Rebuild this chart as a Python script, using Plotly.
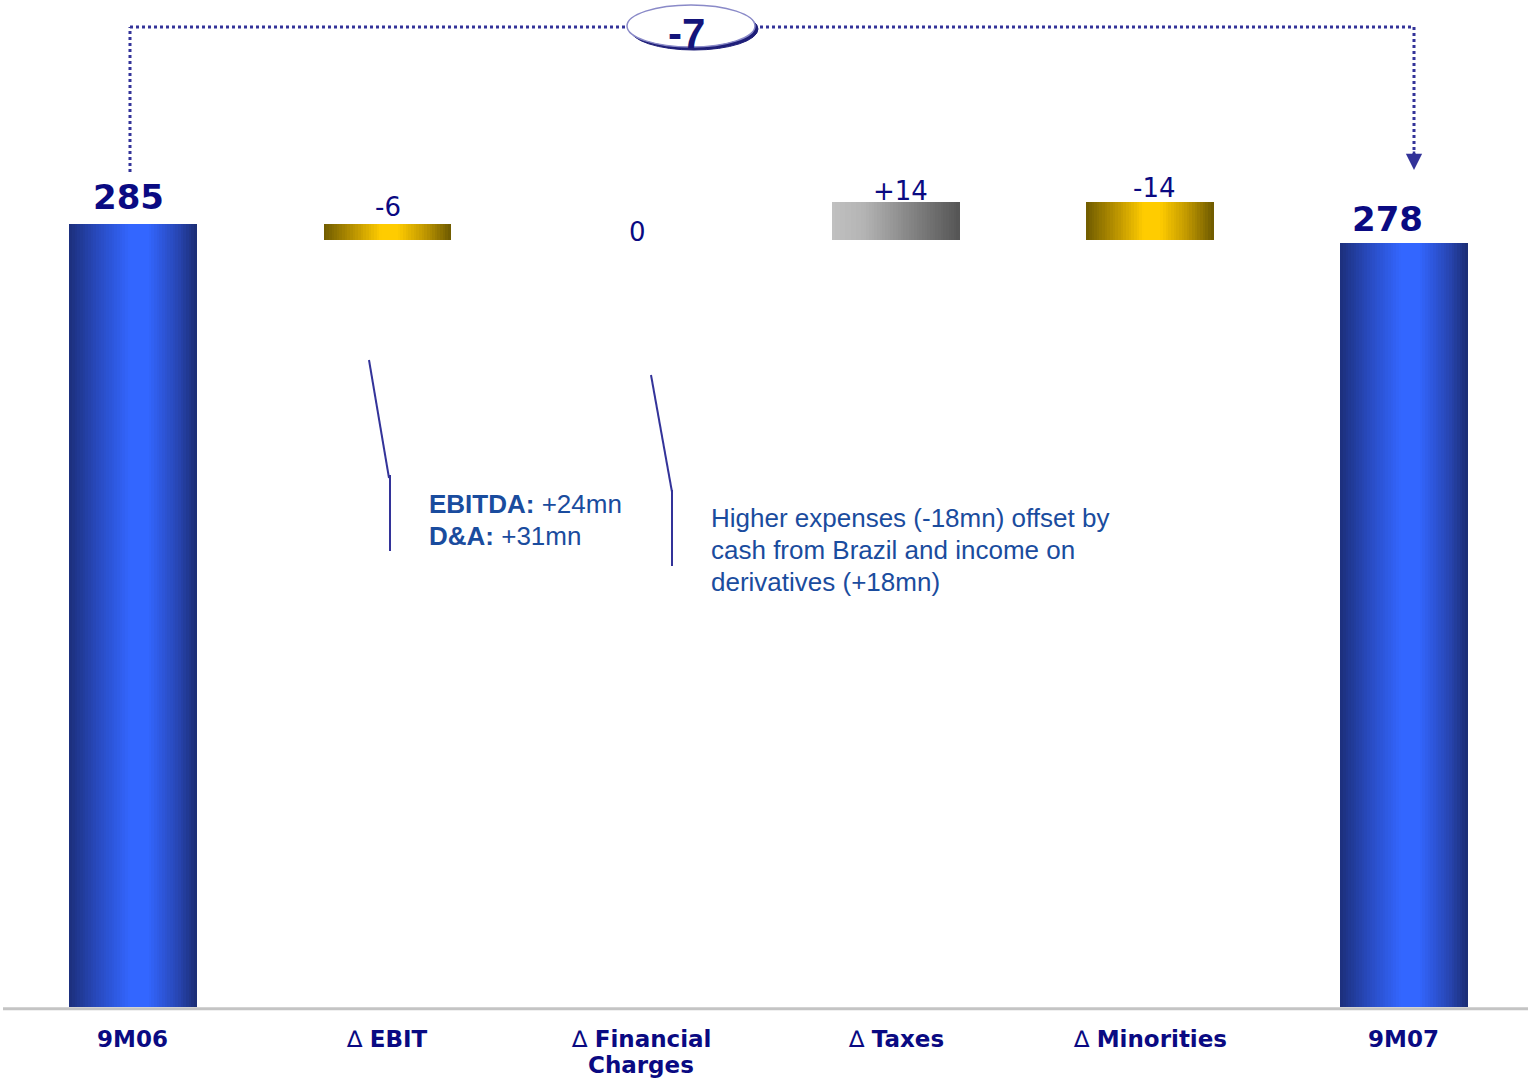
import plotly.graph_objects as go

# --- data ---------------------------------------------------------------
categories = ["9M06", "Δ EBIT", "Δ Financial Charges", "Δ Taxes", "Δ Minorities", "9M07"]
tick_labels = [["<b>9M06</b>"], ["∆ <b>EBIT</b>"], ["∆ <b>Financial</b>", "<b>Charges</b>"],
               ["∆ <b>Taxes</b>"], ["∆ <b>Minorities</b>"], ["<b>9M07</b>"]]
start_value = 285
deltas = [-6, 0, 14, -14]
delta_labels = ["-6", "0", "+14", "-14"]
end_value = 278
total_change = -7

# --- waterfall geometry -------------------------------------------------
lengths, bases, kinds = [], [], []
lengths.append(start_value); bases.append(0); kinds.append("total")
level = start_value
for d in deltas:
    lo = min(level, level + d)
    lengths.append(abs(d)); bases.append(lo)
    kinds.append("up" if d > 0 else ("down" if d < 0 else "zero"))
    level += d
lengths.append(end_value); bases.append(0); kinds.append("total")

# horizontal colour ramps for each kind of bar
ramps = {
    "total": [(0.0, (28, 47, 124)), (0.22, (40, 74, 190)), (0.48, (51, 102, 255)),
              (0.62, (51, 102, 255)), (0.85, (40, 70, 180)), (1.0, (27, 45, 115))],
    "down": [(0.0, (112, 92, 0)), (0.25, (190, 150, 0)), (0.45, (255, 204, 0)),
             (0.58, (255, 204, 0)), (0.8, (190, 150, 0)), (1.0, (110, 90, 0))],
    "up": [(0.0, (192, 192, 192)), (0.25, (180, 180, 180)), (0.6, (135, 135, 135)),
           (1.0, (85, 85, 85))],
    "zero": [(0.0, (255, 255, 255)), (1.0, (255, 255, 255))],
}


def ramp_color(stops, t):
    for (t0, c0), (t1, c1) in zip(stops, stops[1:]):
        if t <= t1:
            f = 0 if t1 == t0 else (t - t0) / (t1 - t0)
            c = [round(a + (b - a) * f) for a, b in zip(c0, c1)]
            return "rgb(%d,%d,%d)" % tuple(c)
    return "rgb(%d,%d,%d)" % stops[-1][1]


fig = go.Figure()

BAR_W = 0.5
N = 48
step = BAR_W / N
xs = list(range(len(categories)))
for k in range(N):
    t = (k + 0.5) / N
    fig.add_trace(go.Bar(
        x=xs, y=lengths, base=bases,
        width=step * 1.25, offset=-BAR_W / 2 + k * step,
        marker=dict(color=[ramp_color(ramps[kd], t) for kd in kinds], line_width=0),
        showlegend=False, hoverinfo="skip",
    ))

NAVY = "#0a0a82"
TEXT_BLUE = "#1a4c9e"
LINK = "#333399"


def px(x, y):
    return x / 1528, 1 - y / 1079


ann = []
# totals labels (x nudge in category units, lift in px)
for i, v, dx, lift in [(0, start_value, -0.016, 27), (5, end_value, -0.063, 24)]:
    ann.append(dict(x=i + dx, y=v, text="<b>%d</b>" % v, showarrow=False,
                    xanchor="center", yanchor="middle", yshift=lift,
                    font=dict(family="DejaVu Sans", size=34, color=NAVY)))
# delta labels
lifts = [17, 8, 11, 14]
dxs = [0.004, -0.016, 0.02, 0.016]
for j, lab in enumerate(delta_labels):
    i = j + 1
    top = bases[i] + lengths[i]
    ann.append(dict(x=i + dxs[j], y=top, text=lab, showarrow=False,
                    xanchor="center", yanchor="middle", yshift=lifts[j],
                    font=dict(family="DejaVu Sans", size=26, color=NAVY)))
# category labels, one annotation per line
for i, lines in enumerate(tick_labels):
    for n, lab in enumerate(lines):
        if n == 0:
            ann.append(dict(x=i, y=0, text=lab, showarrow=False, xanchor="center",
                            yanchor="middle", yshift=-32,
                            font=dict(family="DejaVu Sans", size=23, color=NAVY)))
        else:
            ann.append(dict(x=i, xref="x", y=0, yref="paper", text=lab, showarrow=False,
                            xanchor="center", yanchor="bottom", yshift=-1,
                            font=dict(family="DejaVu Sans", size=23, color=NAVY)))

# notes, one line each
note_lines = [
    (427, 504, "<b>EBITDA:</b> +24mn"),
    (427, 536, "<b>D&A:</b> +31mn"),
    (709, 518, "Higher expenses (-18mn) offset by"),
    (709, 550, "cash from Brazil and income on"),
    (709, 582, "derivatives (+18mn)"),
]
for x, y, txt in note_lines:
    xp, yp = px(x, y)
    ann.append(dict(x=xp, y=yp, xref="paper", yref="paper", xanchor="left",
                    yanchor="middle", showarrow=False, text=txt,
                    font=dict(family="Liberation Sans, Arial", size=26, color=TEXT_BLUE)))

# overall change bubble text
xp, yp = px(686, 33)
ann.append(dict(x=xp, y=yp, xref="paper", yref="paper", xanchor="center", yanchor="middle",
                text="<b>%d</b>" % total_change, showarrow=False,
                font=dict(family="Liberation Sans, Arial", size=42, color="#14147a")))

# arrow head on the right connector
xp, yp = px(1414, 170)
ann.append(dict(x=xp, y=yp, ax=0, ay=-20, xref="paper", yref="paper",
                showarrow=True, arrowhead=2, arrowsize=1.3, arrowwidth=2.5,
                arrowcolor=LINK, text=""))

shapes = []
# baseline
shapes.append(dict(type="line", xref="paper", yref="y", x0=3 / 1528, x1=1, y0=-0.6, y1=-0.6,
                   line=dict(color="#c4c4c4", width=3)))
# dotted connector
for (xa, ya), (xb, yb) in [((130, 172), (130, 27)), ((130, 27), (1414, 27)),
                           ((1414, 27), (1414, 155))]:
    x0, y0 = px(xa, ya); x1, y1 = px(xb, yb)
    shapes.append(dict(type="line", xref="paper", yref="paper", x0=x0, y0=y0, x1=x1, y1=y1,
                       line=dict(color=LINK, width=3, dash="dot")))
# bubble with shadow
x0, y0 = px(630, 8); x1, y1 = px(758, 50)
shapes.append(dict(type="circle", xref="paper", yref="paper", x0=x0, y0=y1, x1=x1, y1=y0,
                   fillcolor="#1e1e78", line=dict(color="#1e1e78", width=1)))
x0, y0 = px(627, 5); x1, y1 = px(755, 47)
shapes.append(dict(type="circle", xref="paper", yref="paper", x0=x0, y0=y1, x1=x1, y1=y0,
                   fillcolor="white", line=dict(color="#8a8ac8", width=1.5)))
# leader lines for the notes
for pts in [[(369, 360), (389, 478)], [(390, 475), (390, 551)],
            [(651, 375), (672, 492)], [(672, 490), (672, 566)]]:
    (xa, ya), (xb, yb) = pts
    x0, y0 = px(xa, ya); x1, y1 = px(xb, yb)
    shapes.append(dict(type="line", xref="paper", yref="paper", x0=x0, y0=y0, x1=x1, y1=y1,
                       line=dict(color=LINK, width=2)))

# scale: value 0 at 1007px, about 2.75 px per unit
PX_PER_UNIT = (1007 - 224) / 285
y_top = 1007 / PX_PER_UNIT
y_bot = y_top - 1079 / PX_PER_UNIT

fig.update_layout(
    width=1528, height=1079,
    margin=dict(l=0, r=0, t=0, b=0),
    paper_bgcolor="white", plot_bgcolor="white",
    barmode="overlay", bargap=0,
    xaxis=dict(range=[-0.523, 5.488], visible=False, fixedrange=True),
    yaxis=dict(range=[y_bot, y_top], visible=False, fixedrange=True),
    annotations=ann, shapes=shapes,
    font=dict(family="Liberation Sans, Arial"),
)

fig.write_html("out.html")
